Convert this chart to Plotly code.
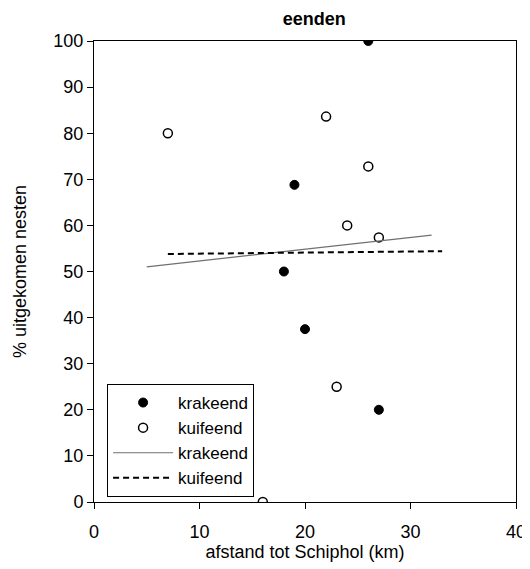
import plotly.graph_objects as go

# data
krak_x = [26, 19, 18, 20, 27]
krak_y = [100, 68.8, 50, 37.5, 20]
kuif_x = [7, 22, 26, 24, 27, 23, 16]
kuif_y = [80, 83.6, 72.8, 60, 57.4, 25, 0]
krak_fit_x = [5, 32]
krak_fit_y = [51.0, 57.9]
kuif_fit_x = [7, 33]
kuif_fit_y = [53.8, 54.4]

font = "Liberation Sans, Arial, sans-serif"

fig = go.Figure()
fig.add_trace(go.Scatter(x=krak_x, y=krak_y, mode="markers", name="krakeend",
                         marker=dict(symbol="circle", size=9, color="black",
                                     line=dict(color="black", width=1))))
fig.add_trace(go.Scatter(x=kuif_x, y=kuif_y, mode="markers", name="kuifeend",
                         marker=dict(symbol="circle", size=9, color="white",
                                     line=dict(color="black", width=1.5))))
fig.add_trace(go.Scatter(x=krak_fit_x, y=krak_fit_y, mode="lines", name="krakeend",
                         line=dict(color="#707070", width=1.2)))
fig.add_trace(go.Scatter(x=kuif_fit_x, y=kuif_fit_y, mode="lines", name="kuifeend",
                         line=dict(color="black", width=2, dash="6px,4px")))

fig.update_layout(
    width=530, height=569,
    margin=dict(l=86, r=22, t=33, b=75),
    paper_bgcolor="white", plot_bgcolor="white",
    font=dict(family=font, size=18, color="black"),
    title=dict(text="<b>eenden</b>", x=0.578, xanchor="center", y=0.982, yanchor="middle",
               font=dict(family=font, size=18, color="black")),
    showlegend=True,
    legend=dict(x=0.031, y=0.256, xanchor="left", yanchor="top",
                bordercolor="black", borderwidth=1, bgcolor="white",
                font=dict(family=font, size=17), tracegroupgap=0,
                itemwidth=60),
    xaxis=dict(range=[0, 40], tickvals=[0, 10, 20, 30, 40], showgrid=False, zeroline=False,
               showline=True, linecolor="black", linewidth=1, mirror=True,
               ticks="outside", ticklen=6, tickcolor="black", ticklabelstandoff=7,
               title=dict(text="afstand tot Schiphol (km)", font=dict(size=18), standoff=4),
               tickfont=dict(size=18)),
    yaxis=dict(range=[0, 100], tickvals=list(range(0, 101, 10)), showgrid=False, zeroline=False,
               showline=True, linecolor="black", linewidth=1, mirror=True,
               ticks="outside", ticklen=6, tickcolor="black",
               title=dict(text="% uitgekomen nesten", font=dict(size=18), standoff=22),
               tickfont=dict(size=18)),
)

fig.write_html("out.html")
